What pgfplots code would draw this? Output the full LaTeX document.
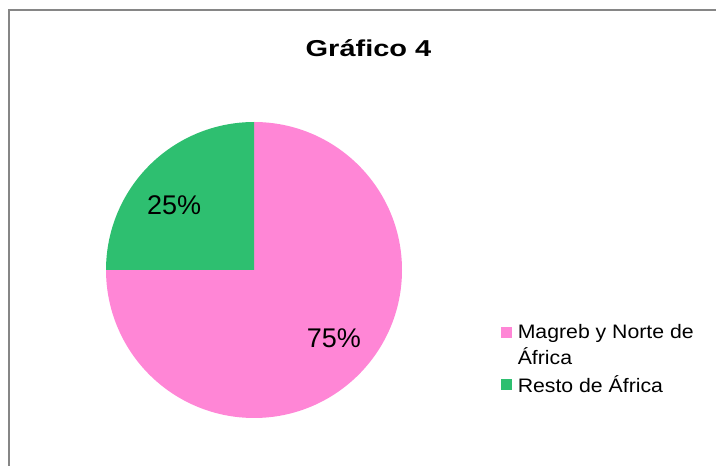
\documentclass[border=0pt]{standalone}
\usepackage{pgfplots}
\pgfplotsset{compat=1.18}
\usepackage{pgfplotstable}
\usepackage{fontspec}
\setmainfont{Liberation Sans}
\definecolor{pinkc}{HTML}{FF86D6}
\definecolor{greenc}{HTML}{2EBF70}
\definecolor{borderc}{HTML}{868686}
\pgfplotstableread{
value
75
25
}\piedata
\pgfplotstablegetelem{0}{value}\of\piedata \xdef\va{\pgfplotsretval}
\pgfplotstablegetelem{1}{value}\of\piedata \xdef\vb{\pgfplotsretval}
\begin{document}
\begin{tikzpicture}
\path[use as bounding box] (0pt,0pt) rectangle (716pt,466pt);
\draw[borderc, line width=2pt] (9pt,0pt) -- (9pt,456pt) -- (716pt,456pt);
\node[font=\bfseries\fontsize{23}{27}\selectfont, anchor=base] at (368.5pt,409pt) {\scalebox{1.26}[1]{Gráfico 4}};
\begin{axis}[at={(254pt,196pt)}, anchor=center, width=296pt, height=296pt,
  scale only axis, xmin=-1, xmax=1, ymin=-1, ymax=1, hide axis, clip=false,
  legend style={draw=none, fill=none, at={(axis description cs:1.335,0.323)},
    anchor=north west, font=\fontsize{19.5}{26}\selectfont,
    cells={anchor=west}, row sep=31pt, inner sep=0pt},
  legend image code/.code={\fill[#1] (0pt,-5pt) rectangle (10pt,5pt);}]
\fill[pinkc] (axis cs:0,0) -- (axis cs:0,1) arc[start angle=90, delta angle=-\va*3.6, radius=148pt] -- cycle;
\fill[greenc] (axis cs:0,0) -- (axis cs:-1,0) arc[start angle=180, delta angle=-\vb*3.6, radius=148pt] -- cycle;
\node[font=\fontsize{27}{30}\selectfont] at (axis cs:0.54,-0.46) {\va\%};
\node[font=\fontsize{27}{30}\selectfont] at (axis cs:-0.54,0.435) {\vb\%};
\addlegendimage{pinkc, fill=pinkc}
\addlegendentry{\hspace*{4pt}\scalebox{1.09}[1]{\parbox[t]{170pt}{Magreb y Norte de\\África}}}
\addlegendimage{greenc, fill=greenc}
\addlegendentry{\hspace*{4pt}\scalebox{1.09}[1]{Resto de África}}
\end{axis}
\end{tikzpicture}
\end{document}
